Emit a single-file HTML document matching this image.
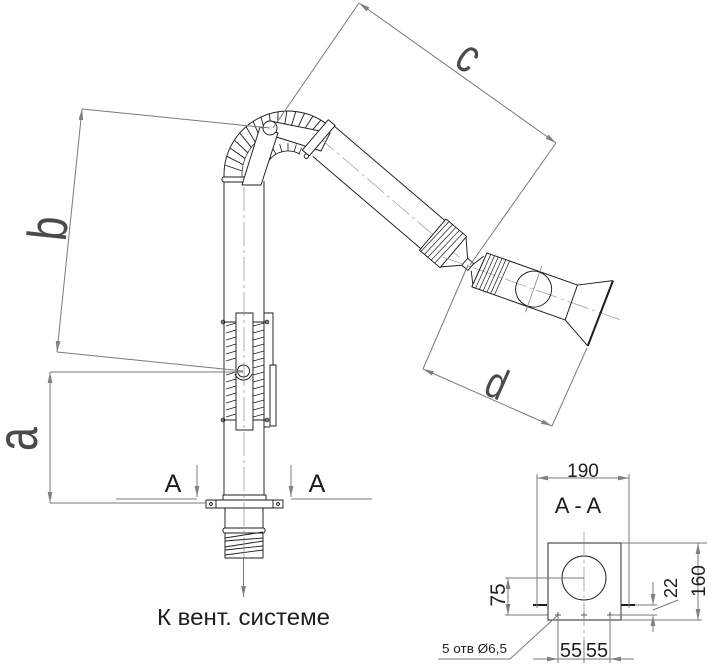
<!DOCTYPE html>
<html><head><meta charset="utf-8"><style>html,body{margin:0;padding:0;background:#fff}svg{display:block}</style></head>
<body>
<svg width="708" height="672" viewBox="0 0 708 672" xmlns="http://www.w3.org/2000/svg" font-family="'Liberation Sans', Arial, sans-serif">
<defs>
<marker id="ar" markerWidth="11" markerHeight="6" refX="11" refY="3" orient="auto-start-reverse" markerUnits="userSpaceOnUse"><path d="M0,0.6 L11,3 L0,5.4 z" fill="#808080"/></marker>
</defs>
<rect width="708" height="672" fill="#fff"/>

<!-- ============ OBJECT ============ -->
<g stroke="#1e1e1e" stroke-width="0.95" fill="none" stroke-linejoin="round">
  <!-- vertical pipe -->
  <path d="M224,181 V495 M264,181 V495"/>
  <!-- elbow band -->
  <path d="M224,181 L224,175 A64,64 0 0 1 329.1,126"/>
  <path d="M242,178 L242,175 A46,46 0 0 1 317.6,139.8" stroke-width="0.7"/>
  <path stroke-width="0.9" d="M242.2,171 L224.8,165 M243.2,164.6 L226.8,156.3 M245.1,158.5 L230,148 M247.8,152.7 L234.3,140.1 M251.3,147.3 L239.7,133 M255.5,142.5 L246,126.7 M260.3,138.3 L253.1,121.3 M265.7,134.8 L261,117 M271.5,132.1 L269.3,113.8 M277.7,130.2 L278,111.8 M284,129.2 L286.9,111 M290.4,129.1 L295.8,111.5 M296.8,129.8 L304.6,113.2 M303,131.5 L313,116.1 M308.9,134 L321,120.1 M314.4,137.3 L328.3,125.3"/>
  <rect x="222" y="177" width="27" height="5" rx="2" fill="#fff"/>
  <!-- link bar -->
  <polygon points="270,121 330,133 321,151 270,135" fill="#fff"/>
  <!-- inner fan -->
  <path d="M268.3,161.2 A24,24 0 0 1 300,154.2"/>
  <path stroke-width="0.8" d="M271,158 L266,152 M276,154.2 L272,147 M281.8,151.8 L279.7,144 M288,151 L288,143 M294.2,151.8 L296.3,144.5 M299,153.5 L302,147.5"/>
  <!-- plate -->
  <polygon points="260,127 278,133 261,185 242,185" fill="#fff"/>
  <circle cx="270" cy="128" r="7" fill="#fff"/>

  <!-- arm -->
  <g transform="translate(333,125) rotate(40.5)">
    <path d="M0,0 H150 M5,37 H148"/>
    <path d="M-5,18.5 H186" stroke="#9a9a9a" stroke-width="0.7" stroke-dasharray="22 4 3 4"/>
    <rect x="-7" y="-1" width="9" height="40" fill="#fff"/>
    <circle cx="0" cy="41" r="2.2" fill="#fff"/>
    <rect x="147" y="-2" width="27" height="41" fill="#fff"/>
    <path stroke-width="0.7" d="M151,-2 L149,39 M155.5,-2 L153.5,39 M160,-2 L158,39 M164.5,-2 L162.5,39 M169,-2 L167,39"/>
    <path d="M174,-1 L189,14 M174,38 L189,23"/>
    <rect x="189" y="14" width="8" height="9" fill="#fff"/>
  </g>

  <!-- hood -->
  <g transform="translate(487,253) rotate(19.5)">
    <path d="M-40,18.5 H150" stroke="#9a9a9a" stroke-width="0.7" stroke-dasharray="22 4 3 4"/>
    <path d="M-9,15 L-2,4 M-9,22 L-3,34"/>
    <path d="M0,0 H96 V37 H-3 Z"/>
    <path stroke-width="0.7" d="M0,0 L-3,37 M4,0 L1,37 M8,0 L5,37 M12,0 L9,37 M16,0 L13,37 M20,0 L17,37 M24,0 L21,37"/>
    <path d="M96,0 L128,-16 M96,37 L126,54"/>
    <path d="M128,-16 L126,54" stroke-width="2"/>
    <circle cx="56" cy="18.5" r="18"/>
    <path d="M56,-6 V43" stroke="#777" stroke-width="0.7"/>
  </g>

  <!-- clamp -->
  <rect x="236" y="313" width="17" height="117" fill="#fff"/>
  <path stroke-width="0.8" d="M226,326 L236,323 M226,333 L236,330 M226,340 L236,337 M226,347 L236,344 M226,354 L236,351 M226,361 L236,358 M226,375 L236,372 M226,382 L236,379 M226,389 L236,386 M226,396 L236,393 M226,403 L236,400 M226,410 L236,407 M226,417 L236,414"/>
  <path stroke-width="0.8" d="M253,326 L264,323 M253,333 L264,330 M253,340 L264,337 M253,347 L264,344 M253,354 L264,351 M253,361 L264,358 M253,368 L264,365 M253,375 L264,372 M253,382 L264,379 M253,389 L264,386 M253,396 L264,393 M253,403 L264,400 M253,410 L264,407 M253,417 L264,414"/>
  <path d="M222,322 H236 M253,322 H268 M222,420 H236 M253,420 H268"/>
  <circle cx="223" cy="322" r="1.8"/><circle cx="267" cy="322" r="1.8"/>
  <circle cx="223" cy="420" r="1.8"/><circle cx="267" cy="420" r="1.8"/>
  <circle cx="243.5" cy="371" r="6" fill="#fff"/>
  <path d="M235,374 A9,9 0 0 0 252,374"/>
  <path d="M264,313 H273 V365 M264,427 H270"/>
  <rect x="270" y="365" width="6" height="61" fill="#fff"/>

  <!-- flange -->
  <rect x="223" y="495" width="43" height="5" fill="#fff"/>
  <rect x="206" y="500" width="77" height="8" fill="#fff"/>
  <path d="M216,500 V508 M273,500 V508"/>
  <circle cx="211" cy="504" r="1.4"/><circle cx="278" cy="504" r="1.4"/>
  <path d="M225,508 V529 M263,508 V529"/>
  <rect x="223" y="528" width="42" height="5" rx="2" fill="#fff"/>
  <path d="M225,533 V558 H263 V533"/>
  <path stroke-width="0.9" d="M225,538 L263,532 M225,541 L263,538 M225,547 L263,541 M225,550 L263,546 M225,555 L263,550"/>
</g>

<!-- center lines -->
<g stroke="#8a8a8a" stroke-width="0.7" fill="none" stroke-dasharray="24 4 3 4">
  <path d="M244,187 V558"/>
</g>
<path d="M243.5,558 V597" stroke="#7a7a7a" stroke-width="1" marker-end="url(#ar)"/>

<!-- ============ DIMENSIONS ============ -->
<g stroke="#7a7a7a" stroke-width="1" fill="none">
  <path d="M359,3 L556,143" marker-start="url(#ar)" marker-end="url(#ar)"/>
  <path d="M359,3 L273,128 M556,143 L470,265"/>
  <path d="M423,369 L552,426" marker-start="url(#ar)" marker-end="url(#ar)"/>
  <path d="M423,369 L468,265 M552,426 L587,348"/>
  <path d="M82,109 L57,352" marker-start="url(#ar)" marker-end="url(#ar)"/>
  <path d="M82,109 L270,128 M57,352 L243,371"/>
  <path d="M50,372 L50,503" marker-start="url(#ar)" marker-end="url(#ar)"/>
  <path d="M50,372 H243 M50,503 H206"/>
  <path d="M116,499 H197 M291,499 H372"/>
  <path d="M197,465 V497" marker-end="url(#ar)"/>
  <path d="M291,465 V497" marker-end="url(#ar)"/>
</g>

<!-- big labels -->
<g fill="#4a4a4a" font-size="50" text-anchor="middle">
  <text transform="translate(22,439) rotate(-90) scale(0.86,1.15)" y="13">a</text>
  <text transform="translate(47,228) rotate(-84) scale(0.86,1.1)" y="18">b</text>
  <text transform="translate(467,59) rotate(35.4) scale(0.86,1.15)" y="11" font-size="42">c</text>
  <text transform="translate(497,383) rotate(23.8) scale(0.86,1.1)" y="14" font-size="40">d</text>
</g>

<g fill="#1e1e1e">
  <text x="173" y="492" font-size="25" text-anchor="middle">A</text>
  <text x="317" y="492" font-size="25" text-anchor="middle">A</text>
  <text x="157" y="625" font-size="23" textLength="173" lengthAdjust="spacingAndGlyphs">К вент. системе</text>
</g>

<!-- ============ SECTION A-A ============ -->
<g stroke="#1e1e1e" stroke-width="0.95" fill="none">
  <rect x="548" y="543" width="73" height="77"/>
  <circle cx="584" cy="578" r="22"/>
  <path d="M533,605 H547 M621,605 H635" stroke-width="2"/>
  <path d="M555,615 H561 M558,612 V618 M581,615 H587 M584,612 V618 M607,615 H613 M610,612 V618" stroke-width="0.8"/>
</g>
<g stroke="#7a7a7a" stroke-width="1" fill="none">
  <path d="M584,532 V652" stroke-dasharray="24 4 3 4" stroke="#8a8a8a" stroke-width="0.7"/>
  <path d="M537,478 H629" marker-start="url(#ar)" marker-end="url(#ar)"/>
  <path d="M537,474 V608 M629,474 V608"/>
  <path d="M621,543 H707 M621,620 H702"/>
  <path d="M698,543 V620" marker-start="url(#ar)" marker-end="url(#ar)"/>
  <path d="M505,578 H584 M505,615 H548"/>
  <path d="M508,578 V615" marker-start="url(#ar)" marker-end="url(#ar)"/>
  <path d="M635,605 H657 M612,615 H657"/>
  <path d="M653,582 V605" marker-end="url(#ar)"/>
  <path d="M653,632 V615" marker-end="url(#ar)"/>
  <path d="M653,610 L678,600"/>
  <path d="M558,615 V663 M610,615 V663 M584,640 V663"/>
  <path d="M533,659 H558" marker-end="url(#ar)"/>
  <path d="M634,659 H610" marker-end="url(#ar)"/>
  <path d="M558,659 H610"/>
  <path d="M438,659 H510 L558,615"/>
</g>
<g fill="#1e1e1e">
  <text x="583" y="477" font-size="19" text-anchor="middle">190</text>
  <text x="578" y="513" font-size="22" text-anchor="middle">A - A</text>
  <text transform="translate(505,595) rotate(-90)" font-size="21" text-anchor="middle">75</text>
  <text transform="translate(705,581) rotate(-90)" font-size="19" text-anchor="middle">160</text>
  <text transform="translate(677,588) rotate(-90)" font-size="18" text-anchor="middle">22</text>
  <text x="571" y="657" font-size="20" text-anchor="middle">55</text>
  <text x="597" y="657" font-size="20" text-anchor="middle">55</text>
  <text x="442" y="653" font-size="12.5" textLength="65" lengthAdjust="spacingAndGlyphs">5 отв Ø6,5</text>
</g>
</svg>
</body></html>
